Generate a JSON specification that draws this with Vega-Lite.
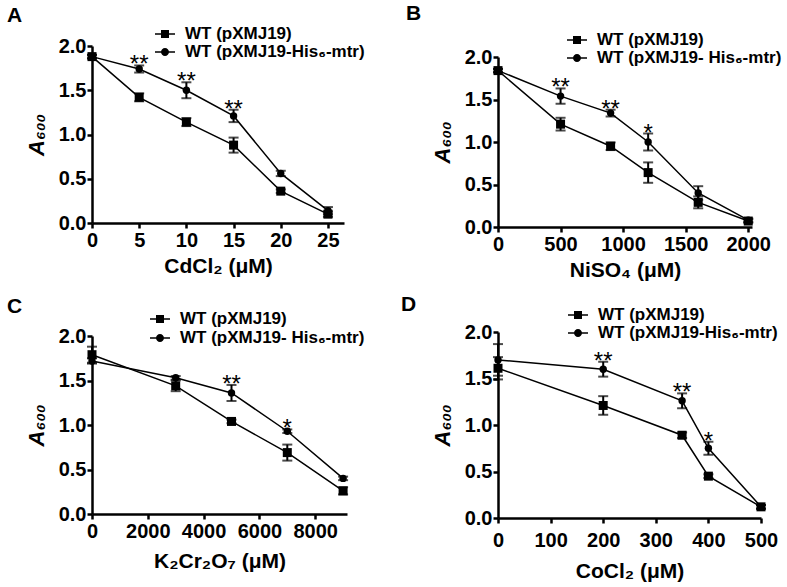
{
  "$schema": "https://vega.github.io/schema/vega-lite/v6.json",
  "padding": {"left": 7, "top": 3, "right": 5, "bottom": 5},
  "datasets": {
    "d": [
      {"panel": "A", "conc": 0, "series": "WT (pXMJ19)", "mean": 1.88, "sd": 0.02, "sig": ""},
      {"panel": "A", "conc": 5, "series": "WT (pXMJ19)", "mean": 1.42, "sd": 0.045, "sig": ""},
      {"panel": "A", "conc": 10, "series": "WT (pXMJ19)", "mean": 1.14, "sd": 0.045, "sig": ""},
      {"panel": "A", "conc": 15, "series": "WT (pXMJ19)", "mean": 0.88, "sd": 0.085, "sig": ""},
      {"panel": "A", "conc": 20, "series": "WT (pXMJ19)", "mean": 0.36, "sd": 0.02, "sig": ""},
      {"panel": "A", "conc": 25, "series": "WT (pXMJ19)", "mean": 0.1, "sd": 0.03, "sig": ""},
      {"panel": "A", "conc": 0, "series": "WT (pXMJ19-His₆-mtr)", "mean": 1.88, "sd": 0.02, "sig": ""},
      {"panel": "A", "conc": 5, "series": "WT (pXMJ19-His₆-mtr)", "mean": 1.74, "sd": 0.04, "sig": "**"},
      {"panel": "A", "conc": 10, "series": "WT (pXMJ19-His₆-mtr)", "mean": 1.5, "sd": 0.09, "sig": "**"},
      {"panel": "A", "conc": 15, "series": "WT (pXMJ19-His₆-mtr)", "mean": 1.21, "sd": 0.07, "sig": "**"},
      {"panel": "A", "conc": 20, "series": "WT (pXMJ19-His₆-mtr)", "mean": 0.56, "sd": 0.03, "sig": ""},
      {"panel": "A", "conc": 25, "series": "WT (pXMJ19-His₆-mtr)", "mean": 0.14, "sd": 0.04, "sig": ""},
      {"panel": "B", "conc": 0, "series": "WT (pXMJ19)", "mean": 1.84, "sd": 0.02, "sig": ""},
      {"panel": "B", "conc": 500, "series": "WT (pXMJ19)", "mean": 1.21, "sd": 0.075, "sig": ""},
      {"panel": "B", "conc": 900, "series": "WT (pXMJ19)", "mean": 0.95, "sd": 0.045, "sig": ""},
      {"panel": "B", "conc": 1200, "series": "WT (pXMJ19)", "mean": 0.64, "sd": 0.12, "sig": ""},
      {"panel": "B", "conc": 1600, "series": "WT (pXMJ19)", "mean": 0.29, "sd": 0.07, "sig": ""},
      {"panel": "B", "conc": 2000, "series": "WT (pXMJ19)", "mean": 0.07, "sd": 0.02, "sig": ""},
      {"panel": "B", "conc": 0, "series": "WT (pXMJ19-His₆-mtr)", "mean": 1.84, "sd": 0.02, "sig": ""},
      {"panel": "B", "conc": 500, "series": "WT (pXMJ19-His₆-mtr)", "mean": 1.54, "sd": 0.09, "sig": "**"},
      {"panel": "B", "conc": 900, "series": "WT (pXMJ19-His₆-mtr)", "mean": 1.34, "sd": 0.04, "sig": "**"},
      {"panel": "B", "conc": 1200, "series": "WT (pXMJ19-His₆-mtr)", "mean": 1.0, "sd": 0.1, "sig": "*"},
      {"panel": "B", "conc": 1600, "series": "WT (pXMJ19-His₆-mtr)", "mean": 0.4, "sd": 0.08, "sig": ""},
      {"panel": "B", "conc": 2000, "series": "WT (pXMJ19-His₆-mtr)", "mean": 0.08, "sd": 0.02, "sig": ""},
      {"panel": "C", "conc": 0, "series": "WT (pXMJ19)", "mean": 1.79, "sd": 0.09, "sig": ""},
      {"panel": "C", "conc": 3000, "series": "WT (pXMJ19)", "mean": 1.44, "sd": 0.06, "sig": ""},
      {"panel": "C", "conc": 5000, "series": "WT (pXMJ19)", "mean": 1.04, "sd": 0.02, "sig": ""},
      {"panel": "C", "conc": 7000, "series": "WT (pXMJ19)", "mean": 0.69, "sd": 0.09, "sig": ""},
      {"panel": "C", "conc": 9000, "series": "WT (pXMJ19)", "mean": 0.26, "sd": 0.04, "sig": ""},
      {"panel": "C", "conc": 0, "series": "WT (pXMJ19-His₆-mtr)", "mean": 1.72, "sd": 0.03, "sig": ""},
      {"panel": "C", "conc": 3000, "series": "WT (pXMJ19-His₆-mtr)", "mean": 1.53, "sd": 0.02, "sig": ""},
      {"panel": "C", "conc": 5000, "series": "WT (pXMJ19-His₆-mtr)", "mean": 1.36, "sd": 0.09, "sig": "**"},
      {"panel": "C", "conc": 7000, "series": "WT (pXMJ19-His₆-mtr)", "mean": 0.93, "sd": 0.02, "sig": "*"},
      {"panel": "C", "conc": 9000, "series": "WT (pXMJ19-His₆-mtr)", "mean": 0.4, "sd": 0.02, "sig": ""},
      {"panel": "D", "conc": 0, "series": "WT (pXMJ19)", "mean": 1.61, "sd": 0.12, "sig": ""},
      {"panel": "D", "conc": 200, "series": "WT (pXMJ19)", "mean": 1.21, "sd": 0.1, "sig": ""},
      {"panel": "D", "conc": 350, "series": "WT (pXMJ19)", "mean": 0.89, "sd": 0.03, "sig": ""},
      {"panel": "D", "conc": 400, "series": "WT (pXMJ19)", "mean": 0.45, "sd": 0.02, "sig": ""},
      {"panel": "D", "conc": 500, "series": "WT (pXMJ19)", "mean": 0.12, "sd": 0.02, "sig": ""},
      {"panel": "D", "conc": 0, "series": "WT (pXMJ19-His₆-mtr)", "mean": 1.7, "sd": 0.17, "sig": ""},
      {"panel": "D", "conc": 200, "series": "WT (pXMJ19-His₆-mtr)", "mean": 1.6, "sd": 0.08, "sig": "**"},
      {"panel": "D", "conc": 350, "series": "WT (pXMJ19-His₆-mtr)", "mean": 1.26, "sd": 0.08, "sig": "**"},
      {"panel": "D", "conc": 400, "series": "WT (pXMJ19-His₆-mtr)", "mean": 0.75, "sd": 0.07, "sig": "*"},
      {"panel": "D", "conc": 500, "series": "WT (pXMJ19-His₆-mtr)", "mean": 0.12, "sd": 0.02, "sig": ""}
    ]
  },
  "columns": 2,
  "align": "none",
  "spacing": 36,
  "resolve": {"scale": {"shape": "independent"}, "legend": {"shape": "independent"}},
  "concat": [
    {
      "spacing": 20,
      "resolve": {"scale": {"shape": "independent"}, "legend": {"shape": "independent"}},
      "vconcat": [
        {
          "data": {"name": "d"},
          "transform": [{"filter": "datum.panel == 'A'"}],
          "width": 252,
          "height": 177,
          "title": {"text": "A", "dx": -85, "offset": -2},
          "encoding": {
            "x": {"field": "conc", "type": "quantitative", "scale": {"domain": [0, 26.7], "nice": false, "zero": false}, "axis": {"values": [0, 5, 10, 15, 20, 25], "format": "d", "title": "CdCl₂ (μM)"}},
            "y": {"field": "mean", "type": "quantitative", "scale": {"domain": [0, 2], "nice": false}, "axis": {"values": [0, 0.5, 1, 1.5, 2], "format": ".1f", "title": "A₆₀₀"}}
          },
          "layer": [
            {"mark": {"type": "line", "color": "black", "strokeWidth": 1.5}, "encoding": {"detail": {"field": "series"}}},
            {"mark": {"type": "errorbar", "ticks": true, "size": 10, "thickness": 2, "color": "black"}, "encoding": {"yError": {"field": "sd"}}},
            {"transform": [{"filter": "datum.series == 'WT (pXMJ19)'"}], "mark": {"type": "point", "shape": "square", "filled": true, "color": "black", "size": 81, "opacity": 1}},
            {"transform": [{"filter": "datum.series != 'WT (pXMJ19)'"}], "mark": {"type": "point", "shape": "circle", "filled": true, "color": "black", "size": 55, "opacity": 1}},
            {"mark": {"type": "point", "filled": true, "color": "black", "opacity": 0},
             "encoding": {"shape": {"field": "series", "type": "nominal", "scale": {"domain": ["WT (pXMJ19)", "WT (pXMJ19-His₆-mtr)"], "range": ["M-1,-0.075H1V0.075H-1ZM-0.4,-0.4H0.4V0.4H-0.4Z", "M-1,-0.075H1V0.075H-1ZM0.4,0A0.4,0.4 0 1,1 -0.4,0A0.4,0.4 0 1,1 0.4,0Z"]},
               "legend": {"orient": "none", "legendX": 63, "legendY": -22, "title": null}}}},
            {"transform": [{"filter": "datum.sig != ''"}, {"calculate": "datum.mean + datum.sd", "as": "top"}],
             "mark": {"type": "text", "baseline": "alphabetic", "align": "center", "dy": 7, "fontSize": 24, "color": "black"},
             "encoding": {"y": {"field": "top", "type": "quantitative", "title": "A₆₀₀"}, "text": {"field": "sig"}}}
          ]
        },
        {
          "data": {"name": "d"},
          "transform": [{"filter": "datum.panel == 'C'"}],
          "width": 255,
          "height": 178,
          "title": {"text": "C", "dx": -85, "offset": -8},
          "encoding": {
            "x": {"field": "conc", "type": "quantitative", "scale": {"domain": [0, 9140], "nice": false, "zero": false}, "axis": {"values": [0, 2000, 4000, 6000, 8000], "format": "d", "title": "K₂Cr₂O₇ (μM)", "titlePadding": 9}},
            "y": {"field": "mean", "type": "quantitative", "scale": {"domain": [0, 2], "nice": false}, "axis": {"values": [0, 0.5, 1, 1.5, 2], "format": ".1f", "title": "A₆₀₀"}}
          },
          "layer": [
            {"mark": {"type": "line", "color": "black", "strokeWidth": 1.5}, "encoding": {"detail": {"field": "series"}}},
            {"mark": {"type": "errorbar", "ticks": true, "size": 10, "thickness": 2, "color": "black"}, "encoding": {"yError": {"field": "sd"}}},
            {"transform": [{"filter": "datum.series == 'WT (pXMJ19)'"}], "mark": {"type": "point", "shape": "square", "filled": true, "color": "black", "size": 81, "opacity": 1}},
            {"transform": [{"filter": "datum.series != 'WT (pXMJ19)'"}], "mark": {"type": "point", "shape": "circle", "filled": true, "color": "black", "size": 55, "opacity": 1}},
            {"mark": {"type": "point", "filled": true, "color": "black", "opacity": 0},
             "encoding": {"shape": {"field": "series", "type": "nominal", "scale": {"domain": ["WT (pXMJ19)", "WT (pXMJ19-His₆-mtr)"], "range": ["M-1,-0.075H1V0.075H-1ZM-0.4,-0.4H0.4V0.4H-0.4Z", "M-1,-0.075H1V0.075H-1ZM0.4,0A0.4,0.4 0 1,1 -0.4,0A0.4,0.4 0 1,1 0.4,0Z"]},
               "legend": {"orient": "none", "legendX": 58, "legendY": -27, "rowPadding": 1, "title": null, "labelExpr": "datum.label == 'WT (pXMJ19)' ? datum.label : 'WT (pXMJ19- His₆-mtr)'"}}}},
            {"transform": [{"filter": "datum.sig != ''"}, {"calculate": "datum.mean + datum.sd", "as": "top"}],
             "mark": {"type": "text", "baseline": "alphabetic", "align": "center", "dy": 7, "fontSize": 24, "color": "black"},
             "encoding": {"y": {"field": "top", "type": "quantitative", "title": "A₆₀₀"}, "text": {"field": "sig"}}}
          ]
        }
      ]
    },
    {
      "spacing": 14,
      "resolve": {"scale": {"shape": "independent"}, "legend": {"shape": "independent"}},
      "vconcat": [
        {
          "data": {"name": "d"},
          "transform": [{"filter": "datum.panel == 'B'"}],
          "width": 254,
          "height": 181,
          "title": {"text": "B", "dx": -92, "offset": 6},
          "encoding": {
            "x": {"field": "conc", "type": "quantitative", "scale": {"domain": [0, 2030], "nice": false, "zero": false}, "axis": {"values": [0, 500, 1000, 1500, 2000], "format": "d", "title": "NiSO₄ (μM)"}},
            "y": {"field": "mean", "type": "quantitative", "scale": {"domain": [0, 2], "nice": false, "range": [181, 11]}, "axis": {"values": [0, 0.5, 1, 1.5, 2], "format": ".1f", "title": "A₆₀₀"}}
          },
          "layer": [
            {"mark": {"type": "line", "color": "black", "strokeWidth": 1.5}, "encoding": {"detail": {"field": "series"}}},
            {"mark": {"type": "errorbar", "ticks": true, "size": 10, "thickness": 2, "color": "black"}, "encoding": {"yError": {"field": "sd"}}},
            {"transform": [{"filter": "datum.series == 'WT (pXMJ19)'"}], "mark": {"type": "point", "shape": "square", "filled": true, "color": "black", "size": 81, "opacity": 1}},
            {"transform": [{"filter": "datum.series != 'WT (pXMJ19)'"}], "mark": {"type": "point", "shape": "circle", "filled": true, "color": "black", "size": 55, "opacity": 1}},
            {"mark": {"type": "point", "filled": true, "color": "black", "opacity": 0},
             "encoding": {"shape": {"field": "series", "type": "nominal", "scale": {"domain": ["WT (pXMJ19)", "WT (pXMJ19-His₆-mtr)"], "range": ["M-1,-0.075H1V0.075H-1ZM-0.4,-0.4H0.4V0.4H-0.4Z", "M-1,-0.075H1V0.075H-1ZM0.4,0A0.4,0.4 0 1,1 -0.4,0A0.4,0.4 0 1,1 0.4,0Z"]},
               "legend": {"orient": "none", "legendX": 69, "legendY": -16, "title": null, "rowPadding": -3, "labelExpr": "datum.label == 'WT (pXMJ19)' ? datum.label : 'WT (pXMJ19- His₆-mtr)'"}}}},
            {"transform": [{"filter": "datum.sig != ''"}, {"calculate": "datum.mean + datum.sd", "as": "top"}],
             "mark": {"type": "text", "baseline": "alphabetic", "align": "center", "dy": 7, "fontSize": 24, "color": "black"},
             "encoding": {"y": {"field": "top", "type": "quantitative", "title": "A₆₀₀"}, "text": {"field": "sig"}}}
          ]
        },
        {
          "data": {"name": "d"},
          "transform": [{"filter": "datum.panel == 'D'"}],
          "width": 263,
          "height": 186,
          "title": {"text": "D", "dx": -97, "offset": -10},
          "encoding": {
            "x": {"field": "conc", "type": "quantitative", "scale": {"domain": [0, 500], "nice": false, "zero": false}, "axis": {"values": [0, 100, 200, 300, 400, 500], "format": "d", "title": "CoCl₂ (μM)", "labelPadding": 7, "titlePadding": 10}},
            "y": {"field": "mean", "type": "quantitative", "scale": {"domain": [0, 2], "nice": false}, "axis": {"values": [0, 0.5, 1, 1.5, 2], "format": ".1f", "title": "A₆₀₀"}}
          },
          "layer": [
            {"mark": {"type": "line", "color": "black", "strokeWidth": 1.5}, "encoding": {"detail": {"field": "series"}}},
            {"mark": {"type": "errorbar", "ticks": true, "size": 10, "thickness": 2, "color": "black"}, "encoding": {"yError": {"field": "sd"}}},
            {"transform": [{"filter": "datum.series == 'WT (pXMJ19)'"}], "mark": {"type": "point", "shape": "square", "filled": true, "color": "black", "size": 81, "opacity": 1}},
            {"transform": [{"filter": "datum.series != 'WT (pXMJ19)'"}], "mark": {"type": "point", "shape": "circle", "filled": true, "color": "black", "size": 55, "opacity": 1}},
            {"mark": {"type": "point", "filled": true, "color": "black", "opacity": 0},
             "encoding": {"shape": {"field": "series", "type": "nominal", "scale": {"domain": ["WT (pXMJ19)", "WT (pXMJ19-His₆-mtr)"], "range": ["M-1,-0.075H1V0.075H-1ZM-0.4,-0.4H0.4V0.4H-0.4Z", "M-1,-0.075H1V0.075H-1ZM0.4,0A0.4,0.4 0 1,1 -0.4,0A0.4,0.4 0 1,1 0.4,0Z"]},
               "legend": {"orient": "none", "legendX": 70, "legendY": -27, "title": null}}}},
            {"transform": [{"filter": "datum.sig != ''"}, {"calculate": "datum.mean + datum.sd", "as": "top"}],
             "mark": {"type": "text", "baseline": "alphabetic", "align": "center", "dy": 7, "fontSize": 24, "color": "black"},
             "encoding": {"y": {"field": "top", "type": "quantitative", "title": "A₆₀₀"}, "text": {"field": "sig"}}}
          ]
        }
      ]
    }
  ],
  "config": {
    "view": {"stroke": null},
    "font": "Liberation Sans",
    "axis": {"domainColor": "black", "domainWidth": 2.5, "tickColor": "black", "tickWidth": 2.5, "tickSize": 5, "labelFont": "Liberation Sans", "labelFontSize": 20, "labelFontWeight": "bold", "labelColor": "black", "labelOverlap": false, "titleFont": "Liberation Sans", "titleFontSize": 21, "titleFontWeight": "bold", "titleColor": "black", "grid": false},
    "axisY": {"labelPadding": 1, "titlePadding": 10, "titleFontSize": 22, "titleFontStyle": "italic"},
    "axisX": {"labelPadding": 2, "titlePadding": 5, "labelFlush": false},
    "legend": {"symbolSize": 400, "symbolStrokeWidth": 0, "symbolFillColor": "black", "symbolStrokeColor": "black", "symbolOpacity": 1, "labelFont": "Liberation Sans", "labelFontSize": 17, "labelFontWeight": "bold", "labelColor": "black", "labelOffset": 10, "rowPadding": 0, "padding": 0, "labelLimit": 400},
    "title": {"font": "Liberation Sans", "fontSize": 21, "fontWeight": "bold", "color": "black", "anchor": "start", "frame": "group"}
  }
}
